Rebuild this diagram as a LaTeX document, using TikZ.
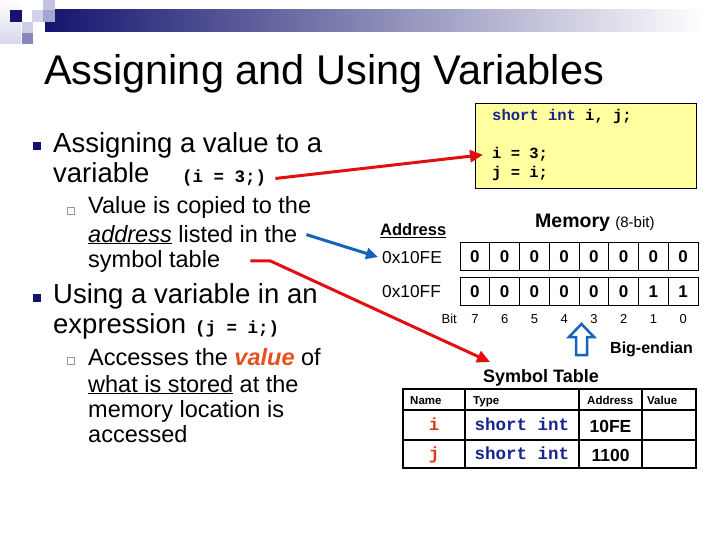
\documentclass[tikz,border=0pt]{standalone}
\usepackage{fontspec}
\setmainfont{Liberation Sans}
\setmonofont{Liberation Mono}
\usetikzlibrary{arrows.meta}
\definecolor{navy}{RGB}{20,20,110}
\definecolor{codeblue}{RGB}{25,35,140}
\definecolor{orred}{RGB}{215,60,20}
\definecolor{valred}{RGB}{230,80,30}
\definecolor{arrred}{RGB}{225,15,15}
\definecolor{arrblue}{RGB}{20,100,190}
\definecolor{boxyellow}{RGB}{255,255,160}
\definecolor{subgray}{RGB}{150,150,170}
\definecolor{lg1}{RGB}{215,215,235}
\definecolor{lg2}{RGB}{195,195,225}
\definecolor{lg3}{RGB}{165,165,210}
\definecolor{lg4}{RGB}{210,210,235}
\definecolor{lg5}{RGB}{205,205,230}
\definecolor{lg6}{RGB}{135,135,190}
\newcommand\myfs[1]{\fontsize{#1}{#1}\selectfont}
\tikzset{
  txt/.style={anchor=base west, inner sep=0pt},
  bul/.style={fill=navy, minimum size=8pt, inner sep=0pt, anchor=south west},
  sbul/.style={draw=subgray, line width=0.8pt, fill=white, minimum size=7pt, inner sep=0pt, anchor=south west},
  cell/.style={draw, line width=0.9pt, minimum width=29.75pt, minimum height=28.5pt, inner sep=0pt, font=\myfs{17}\bfseries},
  bitlbl/.style={anchor=base, inner sep=0pt, font=\myfs{13}},
  redarr/.style={draw=arrred, line width=3pt, -{Triangle[length=13pt,width=12pt]}},
  bluearr/.style={draw=arrblue, line width=3pt, -{Triangle[length=12pt,width=11pt]}},
}
\begin{document}
\begin{tikzpicture}[x=1pt,y=-1pt]
\useasboundingbox (0,0) rectangle (720,540);
% logo
\fill[left color=navy, right color=white] (45,10) rectangle (705,32);
\fill[top color=white, bottom color=lg1] (0,0) rectangle (21,44);
\fill[lg2] (43,0) rectangle (55,10);
\fill[lg3] (43,10) rectangle (55,22);
\fill[lg4] (32,10) rectangle (43,22);
\fill[lg5] (22,22) rectangle (33,33);
\fill[lg6] (22,33) rectangle (33,44);
\fill[navy] (10,10) rectangle (22,22);
% title
\node[txt, font=\myfs{41.5}] (title) at (44,85) {Assigning and Using Variables};
% bullets
\node[bul] (b1) at (33,150) {};
\node[txt, font=\myfs{27.5}] (l1) at (53,153) {Assigning a value to a};
\node[txt, font=\myfs{27.5}] (l2) at (53,183) {variable};
\node[txt, font=\myfs{17.5}\ttfamily\bfseries] (icode) at (182,183) {(i = 3;)};
\node[sbul] (s1) at (67,215) {};
\node[txt, font=\myfs{23.5}] (l3) at (88,214) {Value is copied to the};
\node[txt, font=\myfs{23.5}] (l4) at (88,242) {\underline{\textit{address}} listed in the};
\node[txt, font=\myfs{23.5}] (symtxt) at (88,267) {symbol table};
\node[bul] (b2) at (33,302) {};
\node[txt, font=\myfs{27.5}] (l6) at (53,303) {Using a variable in an};
\node[txt, font=\myfs{27.5}] (l7) at (53,333) {expression};
\node[txt, font=\myfs{17.5}\ttfamily\bfseries] (jcode) at (195,333) {(j = i;)};
\node[sbul] (s2) at (67,365) {};
\node[txt, font=\myfs{23.5}] (l8) at (88,365) {Accesses the \textcolor{valred}{\textbf{\textit{value}}} of};
\node[txt, font=\myfs{23.5}] (l9) at (88,392) {\underline{what is stored} at the};
\node[txt, font=\myfs{23.5}] (l10) at (88,417) {memory location is};
\node[txt, font=\myfs{23.5}] (l11) at (88,442) {accessed};
% code box
\node[draw, line width=0.8pt, fill=boxyellow, minimum width=221pt, minimum height=85pt, anchor=north west, inner sep=0pt] (codebox) at (475,103) {};
\node[txt, font=\myfs{15.5}\ttfamily\bfseries] (c1) at (492,121) {\textcolor{codeblue}{short int} i, j;};
\node[txt, font=\myfs{15.5}\ttfamily\bfseries] (i3) at (492,159) {i = 3;};
\node[txt, font=\myfs{15.5}\ttfamily\bfseries] (ji) at (492,178) {j = i;};
% memory
\node[txt, font=\myfs{19.5}\bfseries] (memt) at (535,228) {Memory \myfs{15}\mdseries(8-bit)};
\node[txt, font=\myfs{16.5}\bfseries] (addr) at (380,236) {\underline{Address}};
\node[txt, font=\myfs{17.3}] (a1) at (382,263) {0x10FE};
\node[txt, font=\myfs{17.3}] (a2) at (382,297) {0x10FF};
\foreach \k/\v in {0/0,1/0,2/0,3/0,4/0,5/0,6/0,7/0}{
  \node[cell] (ra\k) at ({474.875+29.75*\k},256.5) {\v};}
\foreach \k/\v in {0/0,1/0,2/0,3/0,4/0,5/0,6/1,7/1}{
  \node[cell] (rb\k) at ({474.875+29.75*\k},291.2) {\v};}
\node[txt, font=\myfs{13}, anchor=base east] (bitl) at (457,323) {Bit};
\foreach \k in {0,...,7}{
  \pgfmathtruncatemacro\bn{7-\k}
  \node[bitlbl] (bit\k) at ({474.875+29.75*\k},323) {\bn};}
% big-endian hollow arrow
\draw[arrblue, line width=2.5pt, fill=white, line join=miter]
  (581.5,324) -- (594,337) -- (587,337) -- (587,355) -- (576,355) -- (576,337) -- (569,337) -- cycle;
\node[txt, font=\myfs{16}\bfseries] (be) at (610,353) {Big-endian};
% symbol table
\node[txt, font=\myfs{18}\bfseries] (stt) at (483,382) {Symbol Table};
\draw[line width=1.5pt] (465,389) -- (465,468) (579,389) -- (579,468) (642,389) -- (642,468)
  (403,410) -- (696,410) (403,440) -- (696,440);
\draw[line width=2.2pt] (403,389) rectangle (696,468);
\node[txt, font=\myfs{11.5}\bfseries] (hn) at (410,404) {Name};
\node[txt, font=\myfs{11.5}\bfseries] (ht) at (473,404) {Type};
\node[txt, font=\myfs{11.5}\bfseries] (ha) at (587,404) {Address};
\node[txt, font=\myfs{11.5}\bfseries] (hv) at (647,404) {Value};
\node[anchor=base, inner sep=0pt, font=\myfs{17.5}\ttfamily\bfseries, text=orred] (ti) at (434,430) {i};
\node[anchor=base, inner sep=0pt, font=\myfs{17.5}\ttfamily\bfseries, text=codeblue] (tti) at (522,430) {short int};
\node[anchor=base, inner sep=0pt, font=\myfs{17.5}\bfseries] (tai) at (610.5,432) {10FE};
\node[anchor=base, inner sep=0pt, font=\myfs{17.5}\ttfamily\bfseries, text=orred] (tj) at (434,459) {j};
\node[anchor=base, inner sep=0pt, font=\myfs{17.5}\ttfamily\bfseries, text=codeblue] (ttj) at (522,459) {short int};
\node[anchor=base, inner sep=0pt, font=\myfs{17.5}\bfseries] (taj) at (610.5,461) {1100};
% connectors
\coordinate (redend2) at (490,362);
\draw[redarr] ([xshift=9pt]icode.east) -- ([xshift=-9pt]i3.west);
\draw[bluearr] ([xshift=9pt]l4.east) -- ([xshift=-4pt]a1.west);
\draw[redarr, line join=round] ([xshift=30pt]symtxt.east) -- ([xshift=50pt]symtxt.east) -- (redend2);
\end{tikzpicture}
\end{document}
